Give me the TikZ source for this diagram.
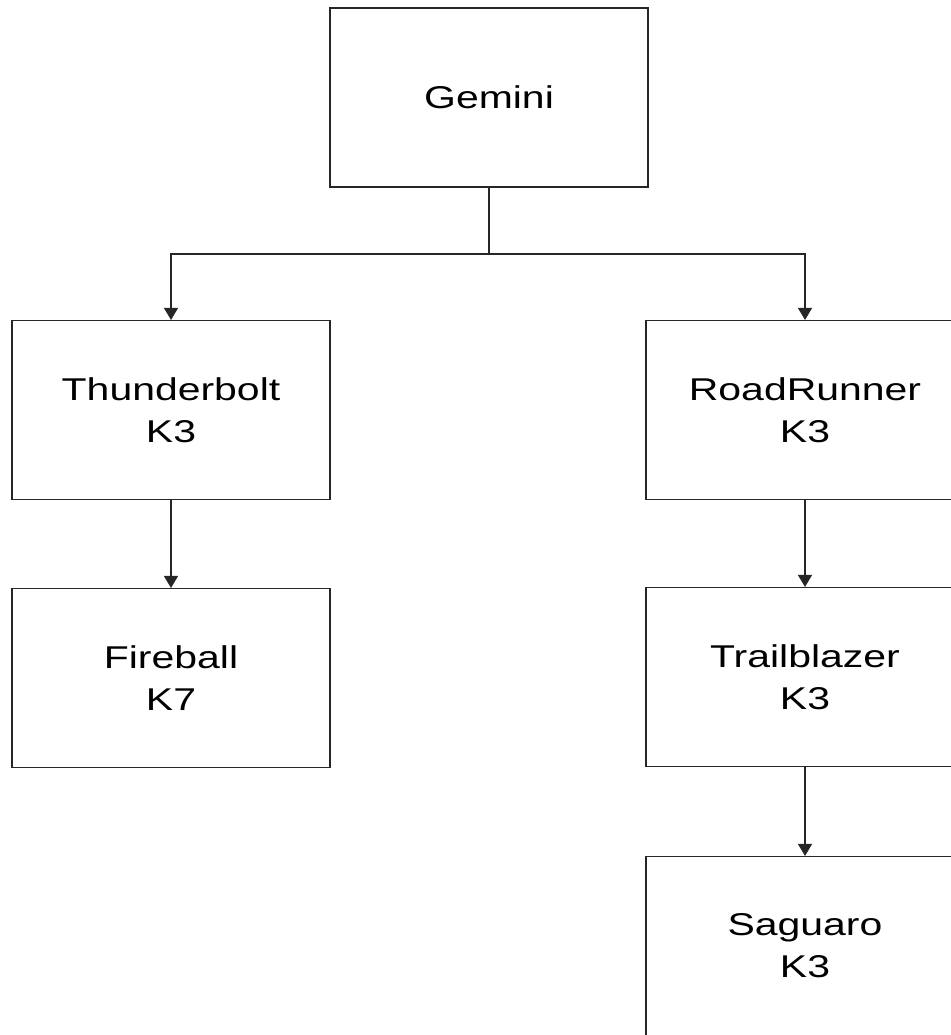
\documentclass[tikz,border=0pt]{standalone}
\usepackage{fontspec}
\setmainfont{Liberation Sans}[FakeStretch=1.3]
\usetikzlibrary{arrows.meta}

\begin{document}
\begin{tikzpicture}[x=1pt,y=-1pt,
        box/.style={rectangle,draw=black!85,fill=white,line width=1.1pt,
          minimum width=318pt,minimum height=179pt,inner sep=0pt,
          align=center,font=\fontsize{31.5}{42}\selectfont},
        link/.style={draw=black!85,line width=1.1pt},
        tip/.style={link,-{Triangle[width=14pt,length=12pt]}}]
        \useasboundingbox (0,0) rectangle (950,1035);
        % Upper level, then the two branches below it.
        \node[box] (gemini) at (489,97.5) {Gemini};
        \node[box] (thunderbolt) at (171,410) {Thunderbolt\\K3};
        \node[box] (roadrunner) at (805,410) {RoadRunner\\K3};
        \node[box] (fireball) at (171,678) {Fireball\\K7};
        \node[box] (trailblazer) at (805,677) {Trailblazer\\K3};
        \node[box] (saguaro) at (805,946) {Saguaro\\K3};
        \coordinate (fork) at (489,254);
        \draw[link] (gemini.south) -- (fork);
        \draw[tip] (fork) -| (thunderbolt.north);
        \draw[tip] (fork) -| (roadrunner.north);
        \draw[tip] (thunderbolt.south) -- (fireball.north);
        \draw[tip] (roadrunner.south) -- (trailblazer.north);
        \draw[tip] (trailblazer.south) -- (saguaro.north);
      \end{tikzpicture}
\end{document}
